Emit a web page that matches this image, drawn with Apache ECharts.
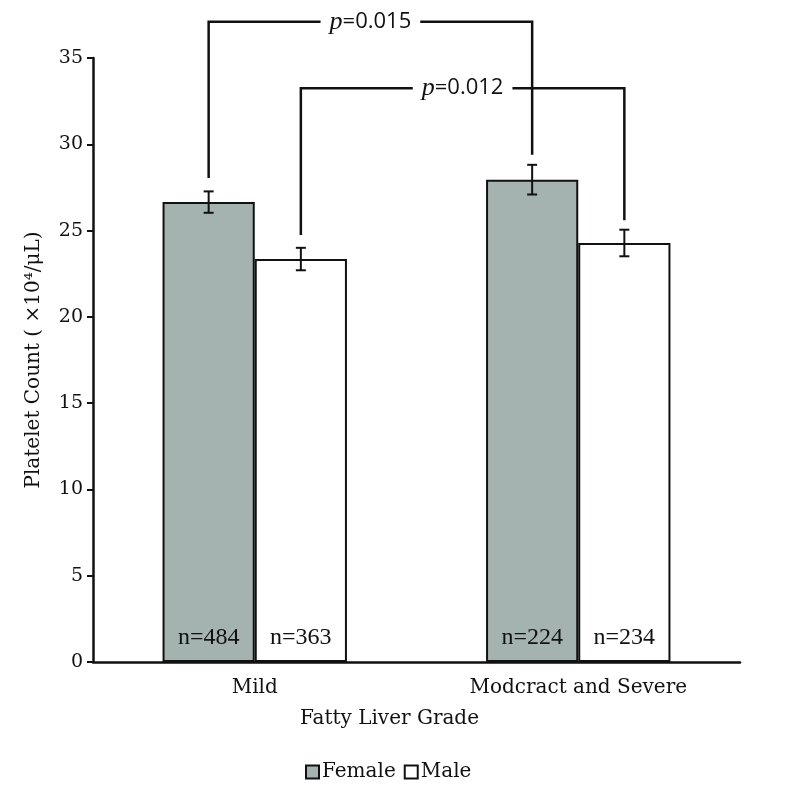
<!DOCTYPE html>
<html>
<head>
<meta charset="utf-8">
<script src="https://cdn.jsdelivr.net/npm/echarts@6/dist/echarts.min.js"></script>
<style>html,body{margin:0;padding:0;background:#fff;}#c{width:794px;height:804px;}</style>
</head>
<body>
<div id="c"></div>
<script>
const categories = ['Mild', 'Modcract and Severe'];
const femaleMean = [26.65, 27.95];
const femaleErr = [0.62, 0.86];
const maleMean = [23.35, 24.28];
const maleErr = [0.65, 0.77];
const femaleN = [484, 224];
const maleN = [363, 234];
const yMin = 0, yMax = 35, yInterval = 5;

// significance brackets: [category, side(-1 female / +1 male)]
const bracketLabels = ['0.015', '0.012'];
const bracketFrom = [[0, -1], [0, 1]];
const bracketTo = [[1, -1], [1, 1]];
const bracketLevel = [37.1, 33.25];
const bracketLeftEnd = [28.05, 24.75];
const bracketRightEnd = [29.4, 25.6];

const GAP = 0.43;
const SERIF = 'DejaVu Serif';
const TIMES = 'Liberation Serif';

function halfShift(api) {
  const band = api.size([1, 0])[0];
  return band * (1 - GAP) / 4;
}

function errRender(side, means, errs) {
  return function (params, api) {
    const i = params.dataIndex;
    const h = halfShift(api);
    const cx = api.coord([i, 0])[0] + side * h;
    const yl = api.coord([i, means[i] - errs[i]])[1];
    const yh = api.coord([i, means[i] + errs[i]])[1];
    const cw = 5;
    const st = { stroke: '#111', lineWidth: 2 };
    return {
      type: 'group',
      children: [
        { type: 'line', shape: { x1: cx, y1: yl, x2: cx, y2: yh }, style: st },
        { type: 'line', shape: { x1: cx - cw, y1: yl, x2: cx + cw, y2: yl }, style: st },
        { type: 'line', shape: { x1: cx - cw, y1: yh, x2: cx + cw, y2: yh }, style: st }
      ]
    };
  };
}

function bracketRender(params, api) {
  const i = params.dataIndex;
  const h = halfShift(api);
  const x1 = api.coord([bracketFrom[i][0], 0])[0] + bracketFrom[i][1] * h;
  const x2 = api.coord([bracketTo[i][0], 0])[0] + bracketTo[i][1] * h;
  const y = api.coord([0, bracketLevel[i]])[1];
  const yl = api.coord([0, bracketLeftEnd[i]])[1];
  const yr = api.coord([0, bracketRightEnd[i]])[1];
  return {
    type: 'group',
    children: [
      { type: 'polyline', shape: { points: [[x1, yl], [x1, y], [x2, y], [x2, yr]] },
        style: { stroke: '#111', lineWidth: 2.5, fill: null } },
      { type: 'text', x: (x1 + x2) / 2, y: y, z2: 10,
        style: {
          text: '{p|p}{n|=' + bracketLabels[i] + '}',
          align: 'center', verticalAlign: 'middle',
          backgroundColor: '#fff', padding: [2, 9],
          rich: {
            p: { fontFamily: TIMES, fontStyle: 'italic', fontSize: 26, fill: '#111' },
            n: { fontFamily: 'Open Sans', fontSize: 22, fill: '#111' }
          }
        } }
    ]
  };
}

const chart = echarts.init(document.getElementById('c'), null, { renderer: 'canvas' });
chart.setOption({
  backgroundColor: '#fff',
  animation: false,
  grid: { left: 93, right: 54, top: 58, bottom: 142, containLabel: false },
  legend: {
    left: 300, top: 757,
    itemWidth: 13, itemHeight: 13, itemGap: 8,
    icon: 'rect',
    textStyle: { fontFamily: SERIF, fontSize: 20, color: '#111', padding: [0, 0, 0, -2] },
    data: ['Female', 'Male']
  },
  xAxis: {
    type: 'category',
    data: categories,
    axisLine: { lineStyle: { color: '#111', width: 2.5 } },
    axisTick: { show: false },
    axisLabel: { fontFamily: SERIF, fontSize: 20, color: '#111', margin: 16 },
    name: 'Fatty Liver Grade',
    nameLocation: 'middle',
    nameGap: 47,
    nameTextStyle: { fontFamily: SERIF, fontSize: 20, color: '#111', padding: [0, 54, 0, 0] }
  },
  yAxis: {
    type: 'value',
    min: yMin, max: yMax, interval: yInterval,
    axisLine: { show: true, lineStyle: { color: '#111', width: 2.5 } },
    axisTick: { show: true, length: 6, lineStyle: { color: '#111', width: 2 } },
    splitLine: { show: false },
    axisLabel: { fontFamily: SERIF, fontSize: 19, color: '#111', margin: 10 },
    name: 'Platelet Count ( ×10⁴/μL)',
    nameLocation: 'middle',
    nameGap: 49,
    nameTextStyle: { fontFamily: SERIF, fontSize: 20, color: '#111' }
  },
  series: [
    {
      name: 'Female', type: 'bar', data: femaleMean,
      barGap: 0, barCategoryGap: (GAP * 100) + '%',
      itemStyle: { color: '#a5b3b0', borderColor: '#111', borderWidth: 2 },
      label: { show: true, position: 'insideBottom', distance: 12,
        formatter: p => 'n=' + femaleN[p.dataIndex],
        fontFamily: TIMES, fontSize: 24, color: '#111' }
    },
    {
      name: 'Male', type: 'bar', data: maleMean,
      barGap: 0, barCategoryGap: (GAP * 100) + '%',
      itemStyle: { color: '#ffffff', borderColor: '#111', borderWidth: 2 },
      label: { show: true, position: 'insideBottom', distance: 12,
        formatter: p => 'n=' + maleN[p.dataIndex],
        fontFamily: TIMES, fontSize: 24, color: '#111' }
    },
    {
      type: 'custom', name: 'femaleErr', renderItem: errRender(-1, femaleMean, femaleErr),
      data: categories.map((c, i) => [i, femaleMean[i]]), z: 5, silent: true
    },
    {
      type: 'custom', name: 'maleErr', renderItem: errRender(1, maleMean, maleErr),
      data: categories.map((c, i) => [i, maleMean[i]]), z: 5, silent: true
    },
    {
      type: 'custom', name: 'brackets', renderItem: bracketRender, clip: false,
      data: bracketLabels.map((l, i) => [bracketFrom[i][0], bracketLevel[i]]), z: 6, silent: true
    }
  ]
});
</script>
</body>
</html>
